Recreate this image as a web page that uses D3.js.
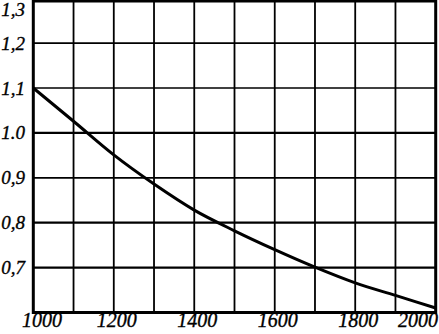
<!DOCTYPE html>
<html>
<head>
<meta charset="utf-8">
<script src="https://cdn.jsdelivr.net/npm/d3@7"></script>
<style>
  html, body { margin: 0; padding: 0; background: #fff; }
  svg { display: block; }
</style>
</head>
<body>
<div id="container"></div>
<script>
const years = [1000, 1100, 1200, 1300, 1400, 1500, 1600, 1700, 1800, 1900, 2000]
const values = [1.10, 1.026, 0.951, 0.886, 0.828, 0.782, 0.740, 0.701, 0.666, 0.638, 0.610]

const xTicks = [1000, 1200, 1400, 1600, 1800, 2000]
const yTicks = [0.7, 0.8, 0.9, 1.0, 1.1, 1.2, 1.3]
const yLabels = ["0,7", "0,8", "0,9", "1.0", "1,1", "1,2", "1,3"]
const thickRows = [0.7, 0.8, 1.0]

const width = 439
const height = 334
const fontFamily = "'Liberation Serif', 'Times New Roman', 'DejaVu Serif', serif"

const x = d3.scaleLinear().domain([1000, 2000]).range([33.3, 435.7])
const y = d3.scaleLinear().domain([0.6, 1.3]).range([312.5, -1.8])

const svg = d3.create("svg")
    .attr("width", width)
    .attr("height", height)

// vertical grid
svg.append("g")
    .selectAll("line")
    .data(d3.range(1100, 2000, 100))
    .enter().append("line")
    .attr("x1", d => x(d)).attr("x2", d => x(d))
    .attr("y1", 0).attr("y2", y(0.6))
    .attr("stroke", "#000")
    .attr("stroke-width", 1.8)

// horizontal grid
svg.append("g")
    .selectAll("line")
    .data(yTicks.slice(0, -1))
    .enter().append("line")
    .attr("x1", x(1000)).attr("x2", x(2000))
    .attr("y1", d => y(d)).attr("y2", d => y(d))
    .attr("stroke", "#000")
    .attr("stroke-width", d => thickRows.includes(d) ? 2.3 : 1.7)

// frame
svg.append("rect")
    .attr("x", x(1000))
    .attr("y", 1)
    .attr("width", x(2000) - x(1000))
    .attr("height", y(0.6) - 1)
    .attr("fill", "none")
    .attr("stroke", "#000")
    .attr("stroke-width", 3)

// curve
const line = d3.line()
    .x((d, i) => x(years[i]))
    .y(d => y(d))
    .curve(d3.curveMonotoneX)

svg.append("path")
    .attr("d", line(values))
    .attr("fill", "none")
    .attr("stroke", "#000")
    .attr("stroke-width", 3)

// y labels
svg.append("g")
    .selectAll("text")
    .data(yTicks)
    .enter().append("text")
    .attr("x", 25)
    .attr("y", d => Math.max(y(d), 9) + 6.5)
    .attr("text-anchor", "end")
    .attr("font-family", fontFamily)
    .attr("font-style", "italic")
    .attr("font-size", 19)
    .attr("stroke", "#000")
    .attr("stroke-width", 0.35)
    .text((d, i) => yLabels[i])

// x labels
svg.append("g")
    .selectAll("text")
    .data(xTicks)
    .enter().append("text")
    .attr("x", (d, i) => i === 0 ? 22 : i === xTicks.length - 1 ? 438 : x(d) + 3)
    .attr("y", 327)
    .attr("text-anchor", (d, i) => i === 0 ? "start" : i === xTicks.length - 1 ? "end" : "middle")
    .attr("font-family", fontFamily)
    .attr("font-style", "italic")
    .attr("font-size", 20)
    .attr("stroke", "#000")
    .attr("stroke-width", 0.35)
    .text(d => d)

document.querySelector("#container").appendChild(svg.node())
</script>
</body>
</html>
